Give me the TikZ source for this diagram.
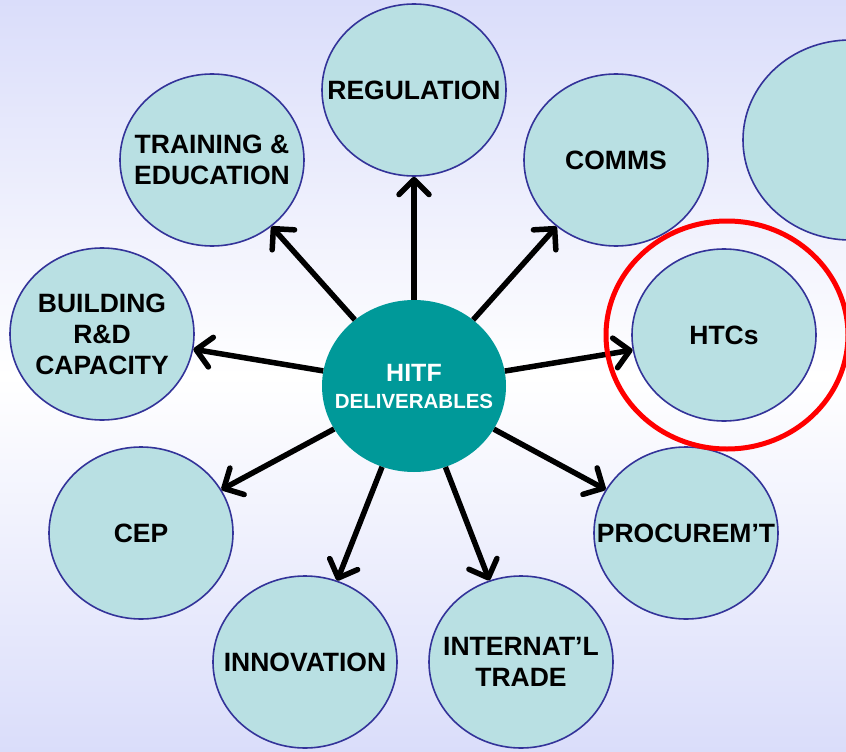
\documentclass[tikz,border=0pt]{standalone}
\usepackage{fontspec}
\setmainfont{Liberation Sans}
\usetikzlibrary{shapes.geometric,arrows.meta}

\definecolor{bgtop}{RGB}{218,221,250}
\definecolor{topicfill}{RGB}{185,224,227}
\definecolor{topicedge}{RGB}{51,51,153}
\definecolor{coreteal}{RGB}{0,153,153}

\tikzset{
  topic/.style={ellipse, draw=topicedge, line width=1.6pt, fill=topicfill,
    minimum width=184pt, minimum height=172pt, inner sep=0pt},
  topictext/.style={font=\bfseries\fontsize{26.5}{31}\selectfont, align=center, text=black},
  core/.style={ellipse, fill=coreteal, minimum width=184pt, minimum height=172pt, inner sep=0pt},
  coretext/.style={font=\bfseries\fontsize{20.5}{27}\selectfont, align=center, text=white},
  link/.style={line width=5.5pt, -{Straight Barb[length=15pt,width=30pt,round]}},
  ring/.style={draw=red, line width=5pt}
}

\begin{document}
\begin{tikzpicture}[x=1pt,y=-1pt]
  \path[use as bounding box] (0,0) rectangle (846,752);
  \clip (0,0) rectangle (846,752);
  \shade[top color=bgtop, bottom color=bgtop, middle color=white] (0,0) rectangle (846,752);

  \node[core, label={[coretext]center:{\fontsize{25}{27}\selectfont HITF}\\DELIVERABLES}] (hitf) at (414,386) {};

  \node[topic, label={[topictext]center:REGULATION}] (regulation) at (414,90) {};
  \node[topic, label={[topictext]center:TRAINING \&\\EDUCATION}] (training) at (212,160) {};
  \node[topic, label={[topictext]center:COMMS}] (comms) at (616,160) {};
  \node[topic, minimum width=214pt, minimum height=200pt] (extra) at (850,140) {};
  \node[topic, label={[topictext]center:BUILDING\\R\&D\\CAPACITY}] (building) at (102,334) {};
  \node[topic, label={[topictext]center:HTCs}] (htc) at (724,335) {};
  \node[topic, label={[topictext]center:CEP}] (cep) at (141,533) {};
  \node[topic, label={[topictext]center:PROCUREM’T}] (procure) at (686,533) {};
  \node[topic, label={[topictext]center:INNOVATION}] (innov) at (305,662) {};
  \node[topic, label={[topictext]center:INTERNAT’L\\TRADE}] (trade) at (521,662) {};

  \foreach \t in {regulation,training,comms,building,htc,cep,procure,innov,trade}
    \draw[link] (hitf) -- (\t);

  \draw[ring] (727,335) ellipse [x radius=121pt, y radius=114pt];
\end{tikzpicture}
\end{document}
